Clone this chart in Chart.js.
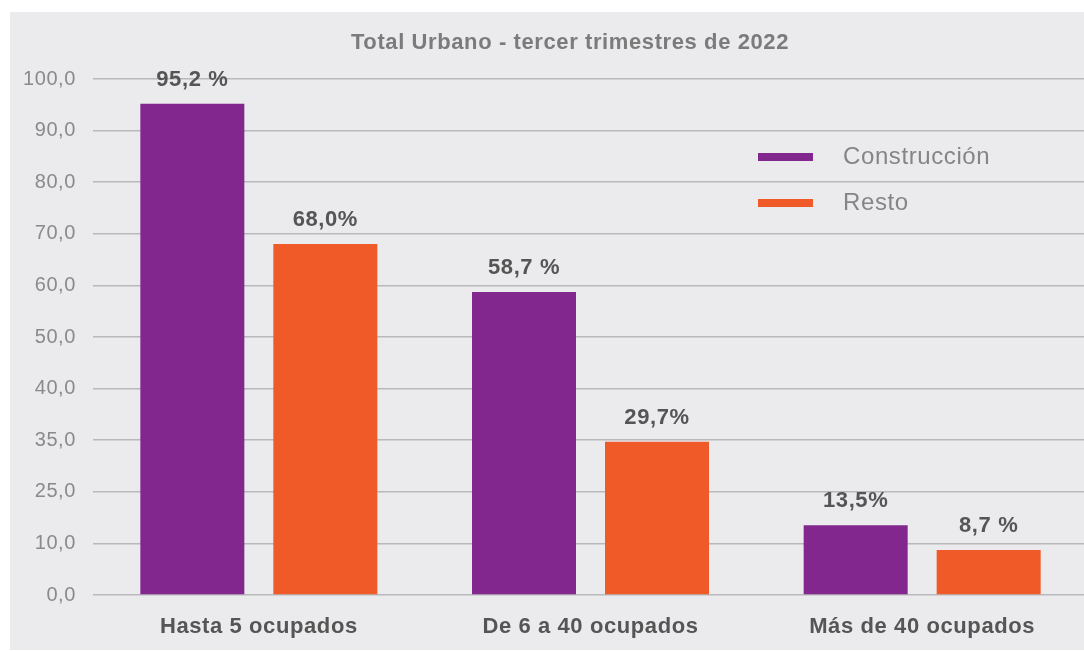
<!DOCTYPE html>
<html>
<head>
<meta charset="utf-8">
<script src="https://cdn.jsdelivr.net/npm/chart.js@4/dist/chart.umd.min.js"></script>
<style>
  html, body { margin: 0; padding: 0; background: #ffffff; overflow: hidden; }
  #wrap { width: 1084px; height: 651px; overflow: hidden; }
</style>
</head>
<body>
<div id="wrap"><canvas id="chart" width="1095" height="651"></canvas></div>
<script>
// Chart data
const categories = ['Hasta 5 ocupados', 'De 6 a 40 ocupados', 'Más de 40 ocupados'];
const construccion = [95.2, 58.7, 13.5];
const resto = [68.0, 29.7, 8.7];
const construccionLabels = ['95,2 %', '58,7 %', '13,5%'];
const restoLabels = ['68,0%', '29,7%', '8,7 %'];
const yTickLabels = ['0,0', '10,0', '25,0', '35,0', '40,0', '50,0', '60,0', '70,0', '80,0', '90,0', '100,0'];

const PURPLE = '#82278e';
const ORANGE = '#f05a28';
const FONT = '"Liberation Sans", Arial, sans-serif';

// background panel, title, legend and value labels
const decorations = {
    id: 'decorations',
    beforeDraw(chart) {
        const ctx = chart.ctx;
        ctx.save();
        ctx.fillStyle = '#ebebee';
        ctx.fillRect(10, 12, chart.width, 638);
        ctx.restore();
        ctx.letterSpacing = '0.6px';
    },
    afterDraw(chart) {
        const ctx = chart.ctx;
        ctx.save();
        ctx.letterSpacing = '0.6px';

        // title
        ctx.fillStyle = '#7b7b7b';
        ctx.font = 'bold 22px ' + FONT;
        ctx.textAlign = 'center';
        ctx.textBaseline = 'middle';
        ctx.fillText('Total Urbano - tercer trimestres de 2022', 570, 43);

        // value labels above the bars
        ctx.fillStyle = '#555555';
        ctx.font = 'bold 22px ' + FONT;
        ctx.textBaseline = 'alphabetic';
        const sets = [construccionLabels, restoLabels];
        sets.forEach((labels, di) => {
            chart.getDatasetMeta(di).data.forEach((bar, i) => {
                ctx.fillText(labels[i], bar.x, bar.y - 18);
            });
        });

        // legend
        const items = [['Construcción', PURPLE, 157], ['Resto', ORANGE, 203]];
        ctx.font = '24px ' + FONT;
        ctx.textAlign = 'left';
        ctx.textBaseline = 'middle';
        items.forEach(([name, color, y]) => {
            ctx.fillStyle = color;
            ctx.fillRect(758, y - 4, 55, 8);
            ctx.fillStyle = '#858585';
            ctx.fillText(name, 843, y);
        });
        ctx.restore();
    }
};

new Chart(document.getElementById('chart'), {
    type: 'bar',
    data: {
        labels: categories,
        datasets: [
            {
                label: 'Construcción',
                data: construccion,
                backgroundColor: PURPLE,
                categoryPercentage: 0.802,
                barPercentage: 0.782
            },
            {
                label: 'Resto',
                data: resto,
                backgroundColor: ORANGE,
                categoryPercentage: 0.802,
                barPercentage: 0.782
            }
        ]
    },
    options: {
        responsive: false,
        animation: false,
        layout: { padding: { top: 79, right: 7, bottom: 0, left: 0 } },
        plugins: {
            legend: { display: false },
            title: { display: false },
            tooltip: { enabled: false }
        },
        scales: {
            x: {
                grid: { display: false },
                border: { display: false },
                ticks: {
                    color: '#555555',
                    font: { family: FONT, size: 22, weight: 'bold' },
                    padding: 11
                },
                afterFit(scale) { scale.height = 56; }
            },
            y: {
                min: 0,
                max: 100,
                border: { display: false },
                grid: {
                    color: '#b9b9bb',
                    lineWidth: 1.5,
                    drawTicks: false
                },
                ticks: {
                    stepSize: 10,
                    color: '#8a8a8a',
                    font: { family: FONT, size: 20 },
                    padding: 17,
                    callback: (v, i) => yTickLabels[i]
                },
                afterFit(scale) { scale.width = 93; }
            }
        }
    },
    plugins: [decorations]
});
</script>
</body>
</html>
